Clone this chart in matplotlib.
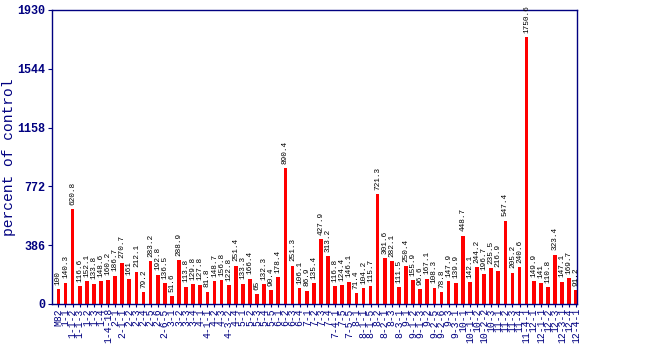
import matplotlib
matplotlib.use("Agg")
import matplotlib.pyplot as plt

lines = [
    "M82", "1-1", "1-1-2", "1-1-3", "1-2", "1-3", "1-4", "1-4-18",
    "2-1", "2-1-1", "2-2", "2-3", "2-4", "2-5", "2-6", "2-6-5",
    "3-1", "3-2", "3-3", "3-4",
    "4-1", "4-1-1", "4-2", "4-3", "4-3-2", "4-4",
    "5-1", "5-2", "5-3", "5-4", "5-5",
    "6-1", "6-2", "6-3", "6-4",
    "7-1", "7-2", "7-3", "7-4", "7-4-1", "7-5", "7-5-5",
    "8-1", "8-1-1", "8-1-5", "8-2", "8-2-1", "8-3", "8-3-1",
    "9-1", "9-1-2", "9-1-3", "9-2", "9-2-5", "9-2-6", "9-3", "9-3-1",
    "10-1", "10-1-1", "10-2", "10-2-2", "10-3",
    "11-1", "11-2", "11-3", "11-4", "11-4-1",
    "12-1", "12-1-1", "12-2", "12-3", "12-3-1", "12-4", "12-4-1",
]

values = [
    100, 140.3, 620.8, 116.6, 152.1, 133.8, 148.6, 160.2, 186.7, 270.7,
    161, 212.1, 79.2, 283.2, 192.8, 136.5, 51.6, 288.9, 113.8, 129.8,
    127.8, 81.8, 148.7, 156.8, 122.8, 251.4, 133.3, 166.4, 65, 132.3,
    90.4, 178.4, 890.4, 251.3, 106.1, 86.9, 135.4, 427.9, 313.2, 116.8,
    124.4, 146.1, 71.4, 104.2, 115.7, 721.3, 301.6, 282.1, 111.5, 250.4,
    155.9, 96.6, 167.1, 108.3, 78.8, 147.9, 139.9, 448.7, 142.1, 244.2,
    196.7, 235.5, 216.9, 547.4, 205.2, 240.6, 1750.6, 149.9, 141, 110.8,
    323.4, 147.1, 169.7, 91.2,
]

y_ticks = [0, 386, 772, 1158, 1544, 1930]

navy = "#000080"
mono = ["Liberation Mono", "DejaVu Sans Mono"]

fig = plt.figure(figsize=(6.5, 3.5), dpi=100)
# plot frame: x 52..577 px, y 10..304 px from the top
ax = fig.add_axes([52 / 650, 46 / 350, 525 / 650, 294 / 350])

x = list(range(len(values)))
ax.bar(x, values, width=0.52, color="#ff0000", zorder=2)

for xi, v in zip(x, values):
    ax.text(xi, v + 28, f"{v:g}", rotation=90, ha="center", va="bottom",
            fontsize=5.6, family=mono, color="black")

ax.set_xlim(-0.9, len(values) - 0.9)
ax.set_ylim(0, 1930)
ax.set_yticks(y_ticks)
ax.set_yticklabels([str(t) for t in y_ticks], family=mono,
                   fontweight="bold", fontsize=8.5, color=navy)
ax.set_xticks(x)
ax.set_xticklabels(lines, rotation=90, family=mono, fontsize=7, color=navy)
ax.tick_params(axis="y", length=3, color=navy, pad=2)
ax.tick_params(axis="x", length=2, color=navy, pad=1)

for s in ax.spines.values():
    s.set_color(navy)
    s.set_linewidth(1)

ax.set_ylabel("percent of control", family=mono, fontsize=10.5, color=navy)
ax.yaxis.set_label_coords(-0.068, 0.5)

fig.savefig("out.png", dpi=100)
